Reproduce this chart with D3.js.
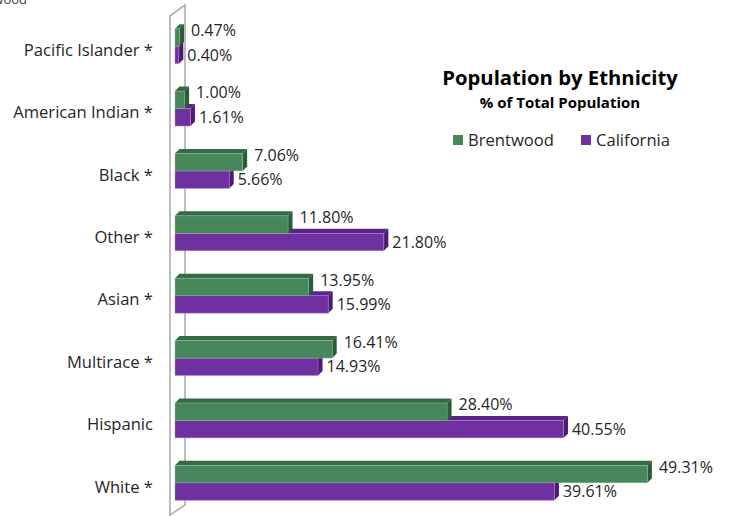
<!DOCTYPE html>
<html>
<head>
<meta charset="utf-8">
<script src="https://cdn.jsdelivr.net/npm/d3@7"></script>
<style>
  html, body { margin: 0; padding: 0; background: #fff; }
  svg { display: block; font-family: "Open Sans", "Noto Sans", sans-serif; }
</style>
</head>
<body>
<svg id="chart" width="730" height="516"></svg>
<script>
// Ethnic composition, Brentwood vs. California (share of total population, %)
const categories = ["Pacific Islander *", "American Indian *", "Black *", "Other *",
                    "Asian *", "Multirace *", "Hispanic", "White *"];
const seriesNames = ["Brentwood", "California"];
const brentwood  = [0.47, 1.00, 7.06, 11.80, 13.95, 16.41, 28.40, 49.31];
const california = [0.40, 1.61, 5.66, 21.80, 15.99, 14.93, 40.55, 39.61];

const svg = d3.select("#chart");
const W = 730, H = 516;

// Face colours for each series: front, top, side
const palette = {
  Brentwood:  { front: "#47875c", top: "#356a47", side: "#2c5a3b", edge: "#8fbf9c" },
  California: { front: "#7030a0", top: "#5a2684", side: "#4a1d6e", edge: "#b88fd8" }
};

const x = d3.scaleLinear().domain([0, 50]).range([175, 654]);
const y = d3.scaleBand().domain(categories).range([15, 514])
  .paddingInner(0.44).paddingOuter(0.22);
const ys = d3.scaleBand().domain(seriesNames).range([0, y.bandwidth()]);
const depth = 4.5;

// Side wall of the 3D plot area
const x0 = x(0);
svg.append("path")
  .attr("d", `M${x0 - 5},${H + 2} L${x0 - 5},16 L${x0 + 10},5 L${x0 + 10},505 L${x0 - 5},515`)
  .attr("fill", "#fff")
  .attr("stroke", "#a6a6a6")
  .attr("stroke-width", 1.5);

// Rows: one record per category with both series
const rows = categories.map((c, i) => ({
  cat: c,
  vals: [{ s: "Brentwood", v: brentwood[i] }, { s: "California", v: california[i] }]
}));

function drawBar(g, d, cat) {
  const c = palette[d.s];
  const xa = x(0), xb = x(d.v);
  const top = y(cat) + ys(d.s), h = ys.bandwidth();
  g.append("path") // top face
    .attr("d", `M${xa},${top} L${xa + depth},${top - depth} L${xb + depth},${top - depth} L${xb},${top} Z`)
    .attr("fill", c.top);
  g.append("path") // end face
    .attr("d", `M${xb},${top} L${xb + depth},${top - depth} L${xb + depth},${top + h - depth} L${xb},${top + h} Z`)
    .attr("fill", c.side);
  g.append("rect") // front face
    .attr("x", xa).attr("y", top)
    .attr("width", Math.max(0, xb - xa)).attr("height", h)
    .attr("fill", c.front)
    .attr("stroke", c.edge).attr("stroke-width", 0.6).attr("stroke-opacity", 0.8);
}

const bars = svg.append("g");
// California first so the Brentwood bar sits over its top face
["California", "Brentwood"].forEach(sName => {
  rows.forEach(r => {
    const d = r.vals.find(v => v.s === sName);
    drawBar(bars, d, r.cat);
  });
});

// Value labels
const labels = svg.append("g")
  .attr("font-size", 16).attr("fill", "#262626");
rows.forEach(r => {
  r.vals.forEach(d => {
    const isB = d.s === "Brentwood";
    const cy = y(r.cat) + ys(d.s) + ys.bandwidth() / 2 + (isB ? -7 : 0);
    labels.append("text")
      .attr("x", x(d.v) + depth + (isB ? 7 : 4))
      .attr("y", cy)
      .attr("dy", "0.35em")
      .text(d.v.toFixed(2) + "%");
  });
});

// Category axis labels
const axisG = svg.append("g")
  .attr("font-size", 16.6).attr("fill", "#262626").attr("text-anchor", "end");
categories.forEach(c => {
  axisG.append("text")
    .attr("x", 153)
    .attr("y", y(c) + y.bandwidth() / 2 + 4)
    .attr("dy", "0.35em")
    .text(c);
});

// Heading in the top-left corner, running off the page edge
svg.append("text")
  .attr("x", 27).attr("y", 4)
  .attr("text-anchor", "end")
  .attr("font-size", 13).attr("fill", "#404040")
  .text("Brentwood");

// Title and subtitle
svg.append("text")
  .attr("x", 560).attr("y", 78).attr("dy", "0.35em")
  .attr("text-anchor", "middle")
  .attr("font-size", 20.3).attr("font-weight", "bold").attr("fill", "#000")
  .text("Population by Ethnicity");
svg.append("text")
  .attr("x", 560).attr("y", 103).attr("dy", "0.35em")
  .attr("text-anchor", "middle")
  .attr("font-size", 15).attr("font-weight", "bold").attr("fill", "#000")
  .text("% of Total Population");

// Legend
const legendX = [453, 581];
const legend = svg.append("g");
seriesNames.forEach((s, i) => {
  const g = legend.append("g").attr("transform", `translate(${legendX[i]},140)`);
  g.append("rect").attr("x", 0).attr("y", -5).attr("width", 10).attr("height", 10)
    .attr("fill", palette[s].front);
  g.append("text").attr("x", 15).attr("y", 0).attr("dy", "0.35em")
    .attr("font-size", 16.6).attr("fill", "#262626").text(s);
});
</script>
</body>
</html>
